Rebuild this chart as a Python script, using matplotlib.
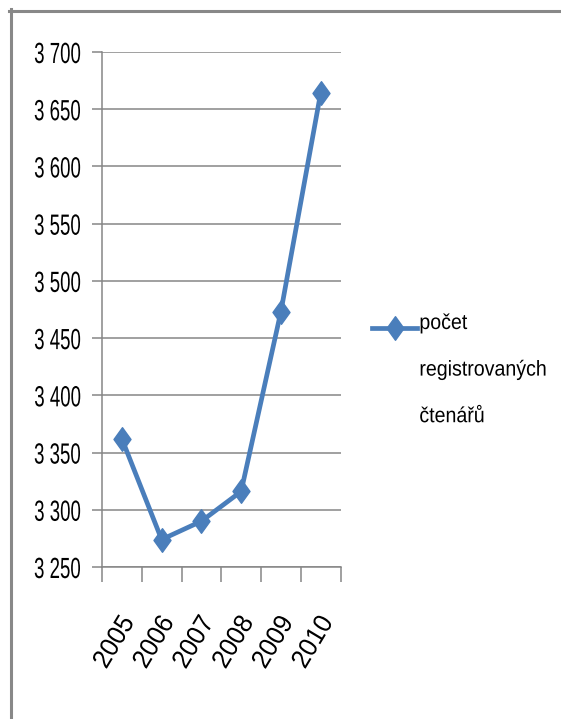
import numpy as np
import matplotlib
matplotlib.use('Agg')
import matplotlib.pyplot as plt
from matplotlib.lines import Line2D
from matplotlib.path import Path
from matplotlib.ticker import FixedLocator, FuncFormatter
from matplotlib.legend_handler import HandlerLine2D
import matplotlib.patheffects as pe
import matplotlib.transforms as mtransforms

# data
roky = ['2005', '2006', '2007', '2008', '2009', '2010']
ctenari = [3362, 3274, 3290, 3316, 3473, 3664]
nazev_rady = 'počet\nregistrovaných\nčtenářů'
y_min, y_max, y_krok = 3250, 3700, 50

plt.rcParams['font.family'] = ['Liberation Sans', 'DejaVu Sans']

modra = '#4A7EBB'
seda = '#868686'

# tall diamond like in Excel
kosoctverec = Path([(0, 1), (0.72, 0), (0, -1), (-0.72, 0), (0, 1)],
                   [Path.MOVETO, Path.LINETO, Path.LINETO, Path.LINETO, Path.CLOSEPOLY])


class Zuzeni(pe.AbstractPathEffect):
    # the picture is stretched vertically, so the text looks condensed
    def __init__(self, sx, kotva='left'):
        super().__init__()
        self.sx = sx
        self.kotva = kotva

    def draw_path(self, renderer, gc, tpath, affine, rgbFace=None):
        v = tpath.vertices
        x0 = 0.0
        if self.kotva == 'right' and len(v):
            x0 = v[:, 0].max()
        t = mtransforms.Affine2D().translate(-x0, 0).scale(self.sx, 1).translate(x0, 0) + affine
        renderer.draw_path(gc, tpath, t, rgbFace)


class HandlerPrvniRadek(HandlerLine2D):
    # put the legend line next to the first row of a multi-line label
    def __init__(self, posun, **kw):
        super().__init__(**kw)
        self.posun = posun

    def create_artists(self, legend, orig_handle, xdescent, ydescent,
                       width, height, fontsize, trans):
        arts = super().create_artists(legend, orig_handle, xdescent, ydescent,
                                      width, height, fontsize, trans)
        for a in arts:
            a.set_ydata(np.asarray(a.get_ydata(), dtype=float) + self.posun)
        return arts


fig = plt.figure(figsize=(5.61, 7.19), dpi=100)
ax = fig.add_axes([102 / 561, 1 - 567 / 719, (340.5 - 102) / 561, (567 - 52) / 719])

x = np.arange(len(roky))
cara, = ax.plot(x, ctenari, color=modra, linewidth=3.4, marker=kosoctverec,
                markersize=17, markeredgecolor=modra, markerfacecolor=modra,
                label=nazev_rady, solid_joinstyle='round')

ax.set_xlim(-0.5, len(roky) - 0.5)
ax.set_ylim(y_min, y_max)

# y axis
ax.yaxis.set_major_locator(FixedLocator(np.arange(y_min, y_max + 1, y_krok)))
ax.yaxis.set_major_formatter(FuncFormatter(lambda v, p: f'{int(v):,}'.replace(',', ' ')))
ax.grid(axis='y', color=seda, linewidth=1.1)
ax.tick_params(axis='y', length=7, width=1.1, color=seda, pad=8, labelsize=21)
for t in ax.get_yticklabels():
    t.set_path_effects([Zuzeni(0.64, 'right')])

# x axis: tick marks between categories, labels at centres
ax.set_xticks(x)
ax.set_xticklabels(roky)
ax.set_xticks(np.arange(-0.5, len(roky)), minor=True)
ax.tick_params(axis='x', which='major', length=0, pad=37, labelsize=19)
ax.tick_params(axis='x', which='minor', length=11, width=1.1, color=seda)
posun = mtransforms.ScaledTranslation(0.07, 0, fig.dpi_scale_trans)
for t in ax.get_xticklabels():
    t.set_rotation(59)
    t.set_rotation_mode('anchor')
    t.set_ha('right')
    t.set_va('center')
    t.set_transform(t.get_transform() + posun)
    t.set_path_effects([Zuzeni(0.95, 'right')])

for s in ['top', 'right']:
    ax.spines[s].set_visible(False)
for s in ['left', 'bottom']:
    ax.spines[s].set_color(seda)
    ax.spines[s].set_linewidth(1.1)
ax.set_axisbelow(True)

# legend on the right
fs_leg = 15.5
ax.legend(handles=[cara], loc='upper left', bbox_to_anchor=(372 / 561, 1 - 313 / 719),
          bbox_transform=fig.transFigure, frameon=False,
          handlelength=2.1, handletextpad=0.1, borderpad=0, borderaxespad=0,
          handler_map={cara: HandlerPrvniRadek(posun=31)},
          prop={'size': fs_leg}, labelspacing=0)
leg = ax.get_legend()
for t in leg.get_texts():
    t.set_linespacing(2.6)
    t.set_path_effects([Zuzeni(0.91)])

# outer frame (only top and left are visible in the picture)
fig.add_artist(Line2D([9 / 561, 1], [1 - 10.5 / 719] * 2, color='#888888', linewidth=2.2,
                      transform=fig.transFigure))
fig.add_artist(Line2D([10.5 / 561] * 2, [0, 1 - 9 / 719], color='#888888', linewidth=2.2,
                      transform=fig.transFigure))

plt.savefig('out.png', dpi=100)
